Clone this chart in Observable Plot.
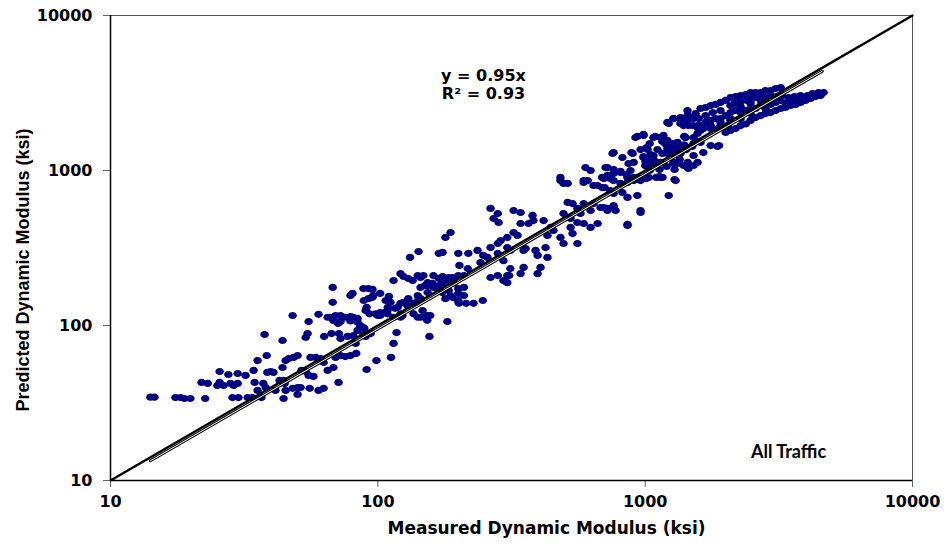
<!DOCTYPE html>
<html>
<head>
<meta charset="utf-8">
<script src="https://cdn.jsdelivr.net/npm/d3@7"></script>
<script src="https://cdn.jsdelivr.net/npm/@observablehq/plot@0.6"></script>
<style>
  html, body { margin: 0; padding: 0; background: #fff; }
  #chart { width: 944px; height: 546px; }
</style>
</head>
<body>
<div id="chart"></div>
<script>
// ---- DATA (Measured vs Predicted dynamic modulus, ksi) ----
const lowRange = [
  [14.1,34.5],[14.6,34.5],[17.5,34.3],[18.3,34.3],[18.9,33.8],[19.9,33.8],
  [22.6,33.8],[21.9,42.9],[23.1,42.3],[25.6,50.5],[25.1,41],[25.6,42.9],[26.5,41],
  [27.6,48.3],[28.1,42.3],[28.9,41],[29.9,49],[29.9,42.3],[28.6,34.3],[30.1,34.3],
  [32,47.6],[32.6,34.3],[34,34.3],[34.3,51.3],[34.6,42.9],[35.5,38.1],[35.5,59.4],[36.7,34.3],
  [37.7,87.5],[37.3,42.3],[38.1,39.8],[38.4,64],[38.6,49.8],[39.7,50.5],[40.7,49.8],[41.4,38.1],
  [42.9,44.2],[44.4,44.2],[44.8,42.3],[44,53.6],[44,80],[44.4,33.8],
  [45.2,59.4],[46.4,61.2],[48.4,62.2],[50.1,64],[45.2,38.1],[48,39.3],[50.1,39.8],[51.4,39.8],[50.1,35.9],
  [48,116],[51.8,51.3],[53.7,50.5],[55.1,47.6],[57.4,46.9],[53.7,83.7],[54.6,88.7],[55.1,106],[55.6,39.3],
  [56,62.2],[58.5,62.2],[61.1,61.2],[62.7,57.7],[60,118],[64.9,113],[66.5,113],[69.5,116],[72.5,116],
  [75.6,113],[79,114],[60,38.1],[62.7,39.3],[63,85],[67.1,88.7],[64.9,51.3],[68.2,53.6],
  [68.2,107.7],[71,103],[72.5,106],[71.5,88.7],[72.5,82.4],[71.3,42.9],
  [69.5,62.2],[72.5,64],[75.6,63],[79,64],[83,66],[77,85],[81,86],[88.3,88],[94,88.7],
  [82.6,76.6],[84,111],[86,100],[89,95.7],[90,85],[90.8,52],[90,125],[93,119],[98.8,59.4],
  [112,62.2],[114.5,76.6],[117.5,90],[102,116],[108.6,119],[114.5,113],[121.6,119],[141,113]
];
const midRange = [
  [67.8,176],[67.8,141],[79,156],[80.4,161],[79,107],[81,113],[84,105],[84,93],[86,97],
  [88.3,173],[92.2,173],[95.5,171],[88.6,145],[92.2,149],[95.5,152],[96,156],[90.8,131],[88.3,97],
  [100,116],[102,121],[106,121],[98,119],[102,161],[107,145],[110,154],[111.5,141],[109,131],[108.6,125],
  [114.5,195],[116,129],[118.6,131],[121.6,139],[124.8,141],[129,134.6],[121.6,113],[123.6,116],
  [121.6,216],[124.8,207],[130,201],[135,195],[141,210],[144.5,204],[148,210],[132,275],[142,300],
  [136,139],[141,145],[144.5,149],[150,181],[153.6,189],[153.6,163],[136,119],[144.5,113],[150,113],[153.6,116],
  [156,85],[161.5,210],[169,201],[174.6,207],[161.5,176],[169,181],[179,149],[184,195],[192,187],[190,204],
  [169,292],[174.6,296],[179,370],[187,398],[182,106],[174,163],[187,156],[200,292],[202,244],[200,210],[199,145],
  [147,125],[157,116],[153,108],[130,149],[141,156],[144.5,176],[153.6,181],[160,187],[164,176],[175,189],
  [184,204],[190,195],[200,173],[210,176],[184,168],[190,152],[200,161],[200,145],[210,156],[214,139],[201,139],
  [228,139],[247,145],[217,233],[210,210],[236,305],[218,292],[248,283],[242,255],[257,275],
  [264,318],[281,338],[288,353],[305,370],[322,398],[333,381],[305,318],[313,305],
  [281,292],[295,262],[313,233],[305,210],[264,204],[281,210],[295,195],[310,210],[305,189],
  [351,305],[357,314],[351,237],[389,305],[396,283],[396,216],[406,237],[431,275],[424,318],[342,216]
];
const upperRange = [
  [264,569],[281,528],[271,490],[283,462],[322,552],[342,536],[379,513],[382,475],[366,455],[342,455],
  [482,902],[495,825],[513,622],[535,612],[558,569],[495,528],[526,490],[558,462],[589,612],[589,455],
  [482,370],[526,429],[535,392],[495,338],[558,338],[454,410],[431,381],[443,429],[417,475],
  [573,528],[625,552],[641,612],[681,577],[723,569],[762,577],[775,552],[625,429],[664,455],
  [589,861],[610,861],[664,800],[690,902],[723,929],[859,442],[961,536],[740,743],[762,711],[705,776],
  [762,594],[723,552],[700,577],[961,552],[859,449],
  [598,1045],[625,1000],[723,1045],[762,957],[809,971],[867,1109],[906,1127],[881,1000],[859,902],[935,887],[961,861],
  [700,887],[740,887],[482,861],[513,825],[589,837],[641,800],[690,776],
  [762,861],[809,825],[859,837],[906,861],[961,887],[1010,887],[1142,902],[822,721],[859,670],[935,690],
  [762,1306],[755,1288],[822,1213],[897,1288],[711,1045],[762,1015],[743,914],[809,986],[852,942],[905,902],
  [945,875],[1030,902],[1132,914],[1288,1015],[1429,1061],[1288,875],[1440,1045],[1300,861],[1225,690],
  [986,1213],[1021,1161],[1000,1077],[1040,1000],[1142,1127],[1074,1109],[1100,902],[1161,902],
  [920,1633],[986,1683],[1074,1633],[1142,1633],[1211,1563],[1267,1494],[1322,1517],[1355,1406],[1517,1494],[1611,1517],
  [1021,1365],[1112,1365],[1211,1387],[1267,1288],[1161,1288],[1074,1250],[1040,1494],
  [1211,1288],[1276,1306],[1355,1288],[1322,1109],[1393,1077],[1452,1031],[1517,1077],[1570,1127],
  [889,1306],[961,1365],[1012,1406],[1047,1268],[986,1231],[1003,1143],[1012,1061],[1074,1178],[1104,1127],
  [1132,1015],[1203,1061],[1277,1127],[1346,1178],[1426,1365],[1500,1429],[1596,1538],
  [935,1658],[986,1708],[1090,1658],[1160,1540],[1191,1540],[1191,1483],[1225,1365],[1300,1365],[1400,1658],[1400,1466]
];
const topBand = [
  [1225,2010],[1276,2163],[1355,2198],[1442,2265],[1517,2163],[1452,1950],[1393,1950],[1570,1893],[1355,2010],
  [1416,1633],[1570,1734],[1211,2042],[1276,2163],[1442,2262],[1570,1950],[1416,1633],[1517,1633],
  [1650,1866],[1758,1950],[1870,1866],[1914,2042],[2040,1950],[2085,2163],[1758,1449],[1890,1449],
  [1650,1306],[1517,1250],[1355,1306],[1276,1387],[1211,1517],[1170,1683],[1276,1109],[1442,1127],[1866,1429],
  [4650,3187],[4450,3187],[4230,3140],[4050,3048],[3811,3048],[3620,3000],[3440,2955],[3250,3048],
  [3100,3000],[2944,3048],[2790,3000],[2650,2955],[2520,2917],[2400,2831],[2275,2790],[2160,2708],
  [3214,3430],[3076,3381],[2944,3282],[2818,3282],[2704,3187],[2588,3187],[2479,3187],[2377,3090],
  [2275,3048],[2178,3000],[2085,2955],[2000,2831],[1914,2748],[1834,2667],[1758,2627],[1683,2550],[1611,2512],
  [4529,3048],[4335,3000],[4159,2917],[3981,2831],[3811,2748],[3656,2667],[3500,2627],[3350,2550],
  [3214,2512],[3076,2438],[2944,2366],[2818,2330],[2704,2262],[2588,2195],[2479,2103],[2377,1995],
  [2275,1950],[2178,1866],[2085,1811],[2000,1758],
  [3500,2831],[3214,2831],[3076,2748],[2944,2667],[2818,2748],[2704,2627],[2588,2512],[2479,2512],
  [2377,2438],[2275,2366],[2178,2438],[2085,2366],[2000,2262],[1914,2163],[1834,2163],[1758,2103],
  [1683,2042],[1611,1950],[2704,2831],[2479,2708],[2275,2588],[2085,2627],[1914,2438],[1790,2366],
  [1683,2262],[1585,2163],[2085,2103],[2275,2163],[2479,2330],[2818,2512],[3350,2708],[3656,2874],
  [3981,2955],[1914,1950],[1758,1866],[1611,1811],[1505,1950],[1440,2103],[1355,2163],[1545,2330],[1440,2438]
];

const axisTicks = [10, 100, 1000, 10000];
const fitSlope = 0.95;
const fitRange = [14.1, 4600];
const equationText = "y = 0.95x";
const r2Text = "R² = 0.93";
const groupLabel = "All Traffic";
const xTitle = "Measured Dynamic Modulus (ksi)";
const yTitle = "Predicted Dynamic Modulus (ksi)";

// ---- build ----
const points = [...lowRange, ...midRange, ...upperRange, ...topBand]
  .map(([m, p]) => ({measured: m, predicted: p}));
const oneToOne = [axisTicks[0], axisTicks[axisTicks.length - 1]].map(v => ({x: v, y: v}));
const fitLine = fitRange.map(v => ({x: v, y: fitSlope * v}));

// slightly flattened ellipse marker
const ellipse = {
  draw(ctx, size) {
    const r = Math.sqrt(size / Math.PI);
    const rx = r * 1.06, ry = r * 0.9, k = 0.5523;
    ctx.moveTo(rx, 0);
    ctx.bezierCurveTo(rx, ry * k, rx * k, ry, 0, ry);
    ctx.bezierCurveTo(-rx * k, ry, -rx, ry * k, -rx, 0);
    ctx.bezierCurveTo(-rx, -ry * k, -rx * k, -ry, 0, -ry);
    ctx.bezierCurveTo(rx * k, -ry, rx, -ry * k, rx, 0);
    ctx.closePath();
  }
};

const fmt = d3.format("d");
const chart = Plot.plot({
  width: 944,
  height: 546,
  marginLeft: 110,
  marginRight: 32,
  marginTop: 15,
  marginBottom: 66,
  style: {background: "#ffffff", color: "#000", fontFamily: "DejaVu Sans", fontSize: "16px", fontWeight: "bold"},
  x: {type: "log", domain: [10, 10000]},
  y: {type: "log", domain: [10, 10000]},
  marks: [
    Plot.frame({stroke: "#555", strokeWidth: 1}),
    Plot.dot(points, {x: "measured", y: "predicted", r: 4, symbol: ellipse, fill: "#000080", stroke: "none"}),
    Plot.line(fitLine, {x: "x", y: "y", stroke: "#000", strokeWidth: 3}),
    Plot.line(fitLine, {x: "x", y: "y", stroke: "#fff", strokeWidth: 1}),
    Plot.line(oneToOne, {x: "x", y: "y", stroke: "#000", strokeWidth: 2.4}),
    Plot.axisX({ticks: axisTicks, tickFormat: fmt, tickSize: 7, tickPadding: 8, label: null, stroke: "#666",
      fontFamily: "DejaVu Sans", fontSize: 16, fontWeight: "bold", fill: "#000"}),
    Plot.axisY({ticks: axisTicks, tickFormat: fmt, tickSize: 7, tickPadding: 11, label: null, stroke: "#666",
      fontFamily: "DejaVu Sans", fontSize: 16, fontWeight: "bold", fill: "#000"}),
    Plot.ruleX([10], {stroke: "#000", strokeWidth: 1.5}),
    Plot.ruleY([10], {stroke: "#000", strokeWidth: 1.5}),
    Plot.text([equationText], {frameAnchor: "top-left", dx: 373, dy: 54, text: d => d, textAnchor: "middle",
      fontFamily: "DejaVu Sans", fontSize: 16, fontWeight: "bold", fill: "#000"}),
    Plot.text([r2Text], {frameAnchor: "top-left", dx: 373, dy: 72, text: d => d, textAnchor: "middle",
      fontFamily: "DejaVu Sans", fontSize: 16, fontWeight: "bold", fill: "#000"}),
    Plot.text([groupLabel], {frameAnchor: "top-left", dx: 678, dy: 430, text: d => d, textAnchor: "middle",
      fontFamily: "Lato", fontSize: 18, fontWeight: "bold", fill: "#000"}),
    Plot.text([xTitle], {frameAnchor: "bottom", dx: 35, dy: 53, text: d => d, textAnchor: "middle",
      fontFamily: "DejaVu Sans", fontSize: 17, fontWeight: "bold", fill: "#000"}),
    Plot.text([yTitle], {frameAnchor: "left", dx: -87, dy: 22, rotate: -90, text: d => d, textAnchor: "middle",
      fontFamily: "Liberation Sans", fontSize: 18, fontWeight: "bold", fill: "#000"})
  ]
});
document.getElementById("chart").appendChild(chart);
</script>
</body>
</html>
